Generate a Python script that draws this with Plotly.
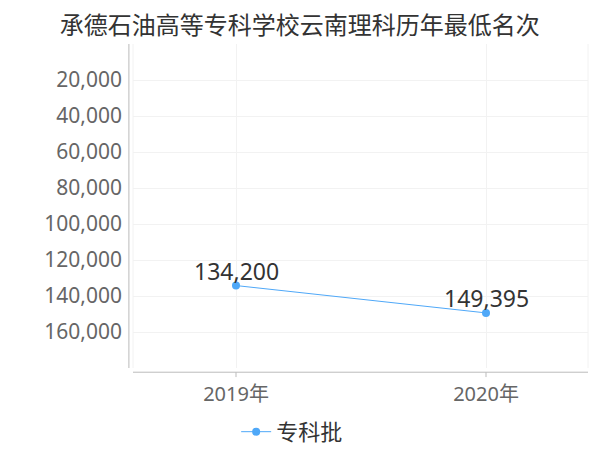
import plotly.graph_objects as go

title = "承德石油高等专科学校云南理科历年最低名次"
categories = ["2019年", "2020年"]
series_name = "专科批"
values = [134200, 149395]
y_tickvals = [0, 20000, 40000, 60000, 80000, 100000, 120000, 140000, 160000, 180000]
y_ticktext = ["", "20,000", "40,000", "60,000", "80,000", "100,000", "120,000", "140,000", "160,000", ""]

FONT = "Noto Sans, Noto Sans CJK SC, sans-serif"
line_color = "#4fa8f8"
xpos = list(range(len(categories)))

fig = go.Figure()
fig.add_trace(go.Scatter(
    x=xpos, y=values, mode="lines+markers", name=series_name,
    line=dict(color=line_color, width=1),
    marker=dict(color=line_color, size=8),
    cliponaxis=False,
))
for xv, v in zip(xpos, values):
    fig.add_annotation(x=xv, y=v, text=f"{v:,}", showarrow=False, xanchor="center",
                       yanchor="bottom", yshift=-3,
                       font=dict(size=23, color="#333333", family=FONT))

# page body has an 8px offset; figure size and margins compensate
fig.update_layout(
    width=592, height=442,
    margin=dict(l=125, r=12, t=36, b=82, autoexpand=False),
    paper_bgcolor="white", plot_bgcolor="white",
    title=dict(text=title, x=0.493, xanchor="center", yref="container", y=0.961, yanchor="middle",
               font=dict(size=24, color="#333333", family=FONT)),
    showlegend=True,
    legend=dict(orientation="h", xref="container", x=0.480, xanchor="center",
                yref="container", y=0.041, yanchor="middle",
                font=dict(size=22, color="#333333", family=FONT), itemwidth=30),
    font=dict(family=FONT),
)
fig.update_xaxes(
    range=[-0.412, 1.408], tickvals=xpos, ticktext=categories,
    showgrid=True, gridcolor="#f2f2f2", zeroline=False, showline=False, automargin=False,
    ticks="", ticklabelstandoff=12, tickfont=dict(size=20, color="#666666", family=FONT),
)
fig.update_yaxes(
    range=[180000, 0], tickvals=y_tickvals, ticktext=y_ticktext,
    showgrid=True, gridcolor="#f2f2f2", zeroline=False, showline=False, automargin=False,
    ticks="", ticklabelstandoff=10,
    tickfont=dict(size=21, color="#666666", family=FONT),
)
# offset axis lines (echarts-like)
fig.add_shape(type="line", xref="paper", yref="paper", x0=-0.009, x1=-0.009, y0=0, y1=1,
              line=dict(color="#bbbbbb", width=1))
fig.add_shape(type="line", xref="paper", yref="paper", x0=0, x1=1, y0=-0.013, y1=-0.013,
              line=dict(color="#bbbbbb", width=1))
# boundary grid lines
fig.add_shape(type="line", xref="paper", yref="paper", x0=0, x1=0, y0=0, y1=1,
              line=dict(color="#f2f2f2", width=1))
fig.add_shape(type="line", xref="paper", yref="paper", x0=1, x1=1, y0=0, y1=1,
              line=dict(color="#f2f2f2", width=1))
# x tick marks below axis line
for xv in xpos:
    fig.add_shape(type="line", xref="x", yref="paper", x0=xv, x1=xv, y0=-0.013, y1=-0.028,
                  line=dict(color="#bbbbbb", width=1))

fig.write_html("out.html")
